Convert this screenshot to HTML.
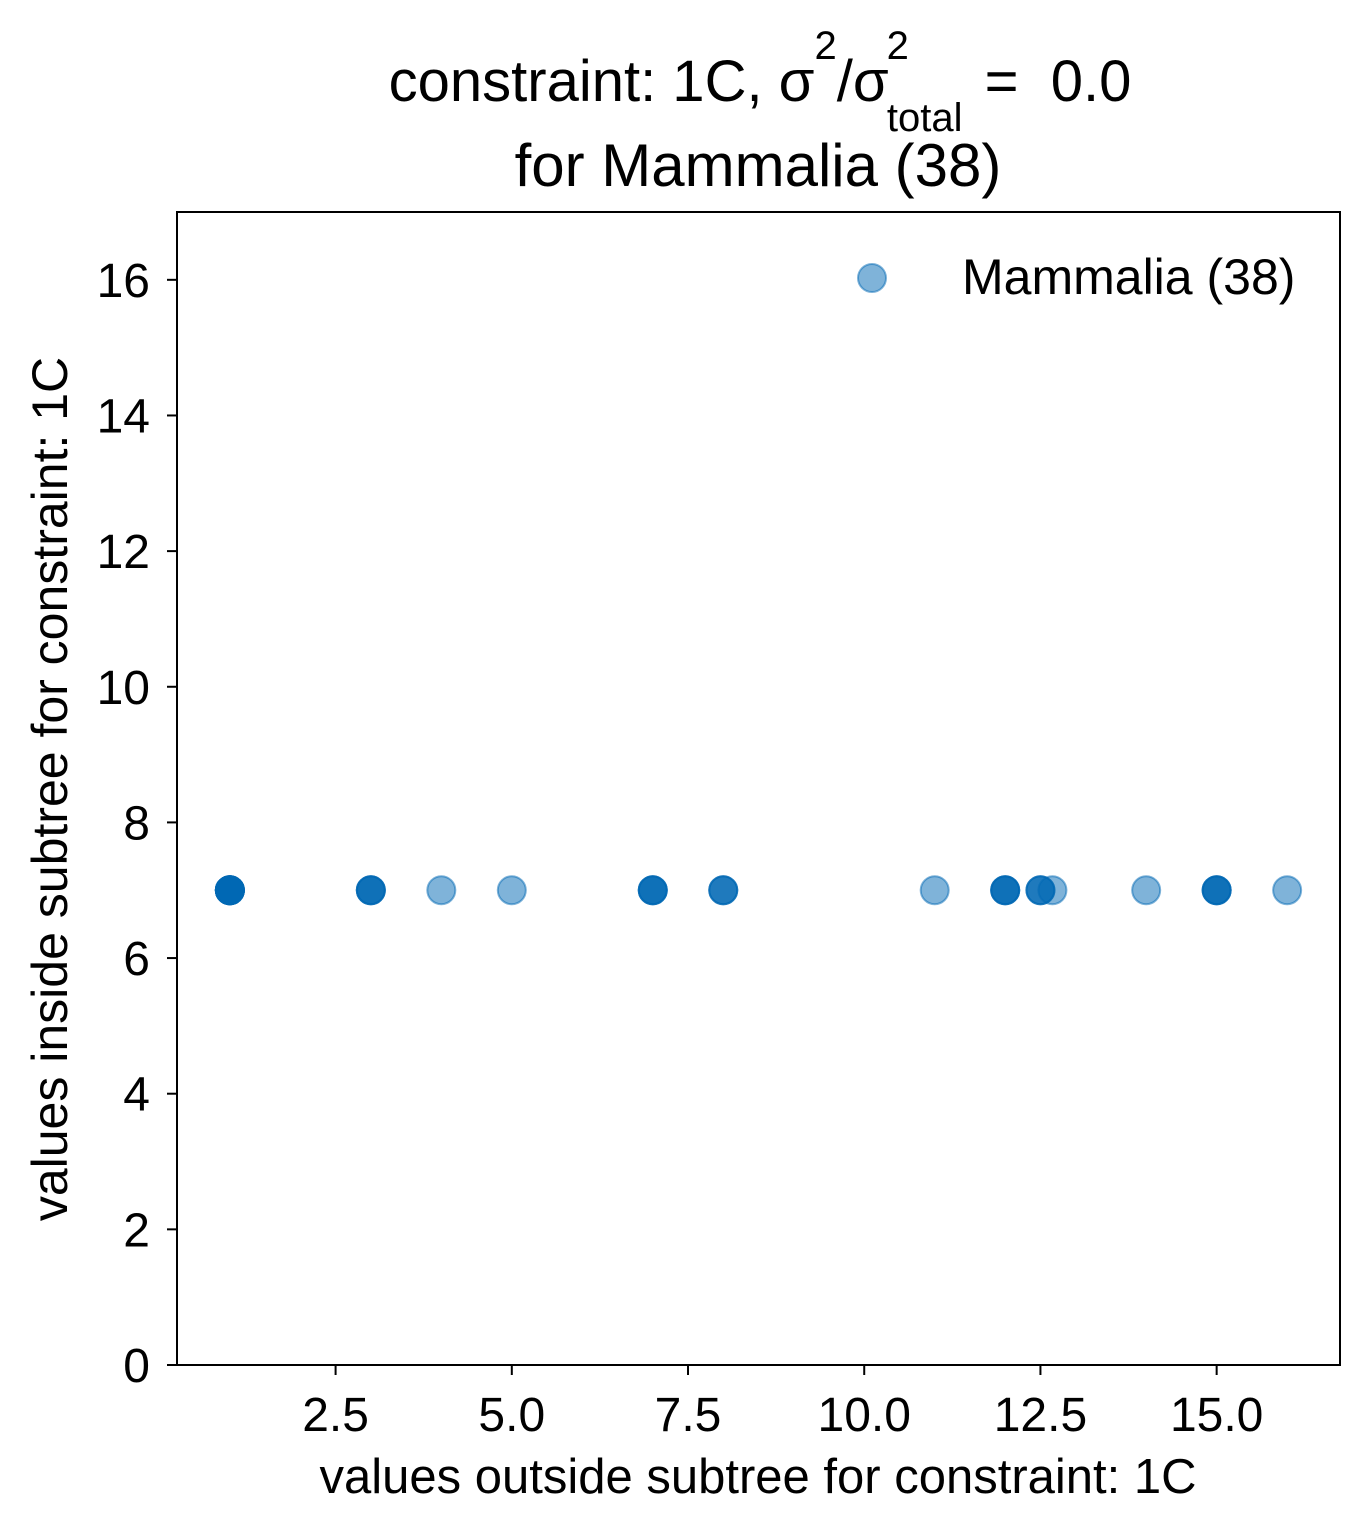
<!DOCTYPE html>
<html><head><meta charset="utf-8">
<style>
html,body{margin:0;padding:0;background:#fff;}
svg text{font-family:"Liberation Sans",Arial,sans-serif;fill:#000;}
</style></head>
<body>
<svg id="chart" width="1369" height="1535" xmlns="http://www.w3.org/2000/svg">
<text x="760" y="101" font-size="58" text-anchor="middle">constraint: 1C, σ<tspan dy="-42" font-size="40">2</tspan><tspan dy="42">/σ</tspan><tspan dy="-42" font-size="40" dx="-2">2</tspan><tspan dy="72" dx="-22" font-size="40">total</tspan><tspan dy="-30" dx="6"> = &#160;0.0</tspan></text>
<text x="758" y="186" font-size="60" text-anchor="middle">for Mammalia (38)</text>
<g id="points"></g>
<rect x="177" y="212" width="1163" height="1153" fill="none" stroke="#000" stroke-width="2"/>
<g id="xticks"></g>
<g id="yticks"></g>
<text x="758" y="1493" font-size="49" text-anchor="middle">values outside subtree for constraint: 1C</text>
<text transform="translate(67,789) rotate(-90)" font-size="50" text-anchor="middle">values inside subtree for constraint: 1C</text>
<g>
<circle cx="872" cy="278" r="14" fill="rgb(0,104,180)" fill-opacity="0.5" stroke="rgb(0,104,180)" stroke-opacity="0.5" stroke-width="2"/>
<text x="962" y="294" font-size="50">Mammalia (38)</text>
</g>
</svg>
<script>
const xValues = [1,3,4,5,7,8,11,12,12.5,12.67,14,15,16];
const yValues = [7,7,7,7,7,7,7,7,7,7,7,7,7];
const counts = [10,4,1,1,4,3,1,4,3,1,1,4,1];
const xTicks = [2.5,5.0,7.5,10.0,12.5,15.0];
const xTickLabels = ["2.5","5.0","7.5","10.0","12.5","15.0"];
const yTicks = [0,2,4,6,8,10,12,14,16];
const yTickLabels = ["0","2","4","6","8","10","12","14","16"];

const NS="http://www.w3.org/2000/svg";
const X0=177,X1=1340,Y0=1365,Y1=212,xmin=0.25,xmax=16.75,ymin=0,ymax=17;
const sx=v=>X0+(v-xmin)/(xmax-xmin)*(X1-X0);
const sy=v=>Y0-(v-ymin)/(ymax-ymin)*(Y0-Y1);
const pts=document.getElementById('points');
xValues.forEach((xv,i)=>{
  for(let k=0;k<counts[i];k++){
    const c=document.createElementNS(NS,'circle');
    c.setAttribute('cx',sx(xv));c.setAttribute('cy',sy(yValues[i]));c.setAttribute('r',14);
    c.setAttribute('fill','rgb(0,104,180)');c.setAttribute('fill-opacity','0.5');
    c.setAttribute('stroke','rgb(0,104,180)');c.setAttribute('stroke-opacity','0.5');c.setAttribute('stroke-width','2');
    
    
    pts.appendChild(c);
  }
});
const xg=document.getElementById('xticks');
xTicks.forEach((t,i)=>{
  const l=document.createElementNS(NS,'line');
  l.setAttribute('x1',sx(t));l.setAttribute('x2',sx(t));l.setAttribute('y1',Y0);l.setAttribute('y2',Y0+10);
  l.setAttribute('stroke','#000');l.setAttribute('stroke-width','2');
  
  
  xg.appendChild(l);
  const tx=document.createElementNS(NS,'text');
  tx.setAttribute('x',sx(t));tx.setAttribute('y',Y0+66);tx.setAttribute('font-size','48');tx.setAttribute('text-anchor','middle');
  tx.textContent=xTickLabels[i];
  
  
  xg.appendChild(tx);
});
const yg=document.getElementById('yticks');
yTicks.forEach((t,i)=>{
  const l=document.createElementNS(NS,'line');
  l.setAttribute('x1',X0-10);l.setAttribute('x2',X0);l.setAttribute('y1',sy(t));l.setAttribute('y2',sy(t));
  l.setAttribute('stroke','#000');l.setAttribute('stroke-width','2');
  
  
  yg.appendChild(l);
  const tx=document.createElementNS(NS,'text');
  tx.setAttribute('x',X0-27);tx.setAttribute('y',sy(t)+17);tx.setAttribute('font-size','48');tx.setAttribute('text-anchor','end');
  tx.textContent=yTickLabels[i];
  
  
  yg.appendChild(tx);
});
</script>
</body></html>
